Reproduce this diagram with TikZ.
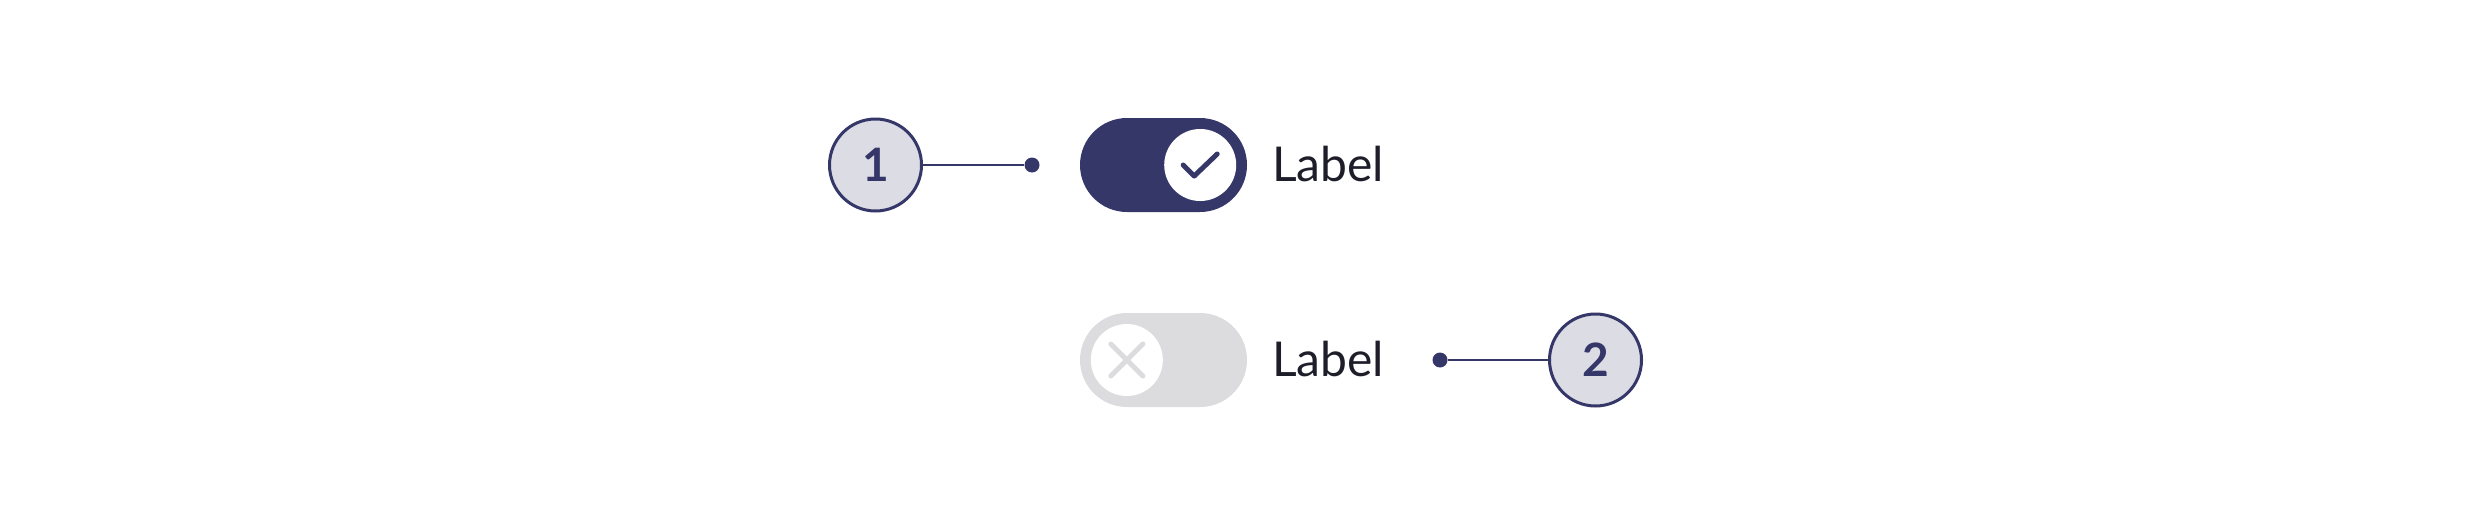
\documentclass[tikz,border=0pt]{standalone}
\usepackage{fontspec}
\setmainfont{Lato}
\usetikzlibrary{positioning, shapes.misc}

\definecolor{navy}{HTML}{363769}
\definecolor{badgefill}{HTML}{DCDCE4}
\definecolor{trackoff}{HTML}{DCDCDE}
\definecolor{labeltext}{HTML}{1E1E2A}

\begin{document}
\begin{tikzpicture}[x=1pt, y=-1pt,
    badge/.style={circle, draw=navy, line width=3pt, fill=badgefill, minimum size=92pt, inner sep=0pt,
      text=navy, font=\fontsize{46}{54}\selectfont\bfseries},
    pin/.style={circle, fill=navy, minimum size=15pt, inner sep=0pt},
    track/.style={rounded rectangle, minimum width=167pt, minimum height=94pt, inner sep=0pt},
    knob/.style={circle, fill=white, minimum size=72pt, inner sep=0pt},
    lbl/.style={anchor=base west, inner sep=0pt, text=labeltext, font=\fontsize{48}{56}\selectfont}]

    % Rahmen
    \useasboundingbox (0,0) rectangle (2472,525);

    % Schalter an
    \node[track, fill=navy] (track1) at (1163.5,165) {};
    \node[knob] (knob1) at ([xshift=-47pt]track1.east) {};
    \draw[navy, line width=5pt, line cap=round, line join=round]
        ([shift={(-17,0)}]knob1.center) -- ([shift={(-6,11)}]knob1.center) -- ([shift={(17,-11)}]knob1.center);
    \node[lbl] (label1) at (1272,181) {Label};

    % Schalter aus
    \node[track, fill=trackoff] (track2) at (1163.5,360) {};
    \node[knob] (knob2) at ([xshift=47pt]track2.west) {};
    \draw[trackoff, line width=5pt, line cap=round]
        ([shift={(-16,-16)}]knob2.center) -- ([shift={(16,16)}]knob2.center)
        ([shift={(-16,16)}]knob2.center) -- ([shift={(16,-16)}]knob2.center);
    \node[lbl] (label2) at (1272,376) {Label};

    % Markierungen
    \node[badge] (badge1) at (875.5,165) {1};
    \node[pin] (pin1) at (1032,165) {};
    \draw[navy, line width=2.5pt] (badge1) -- (pin1);

    \node[badge] (badge2) at (1595.5,360) {2};
    \node[pin] (pin2) at (1440,360) {};
    \draw[navy, line width=2.5pt] (pin2) -- (badge2);

\end{tikzpicture}
\end{document}
